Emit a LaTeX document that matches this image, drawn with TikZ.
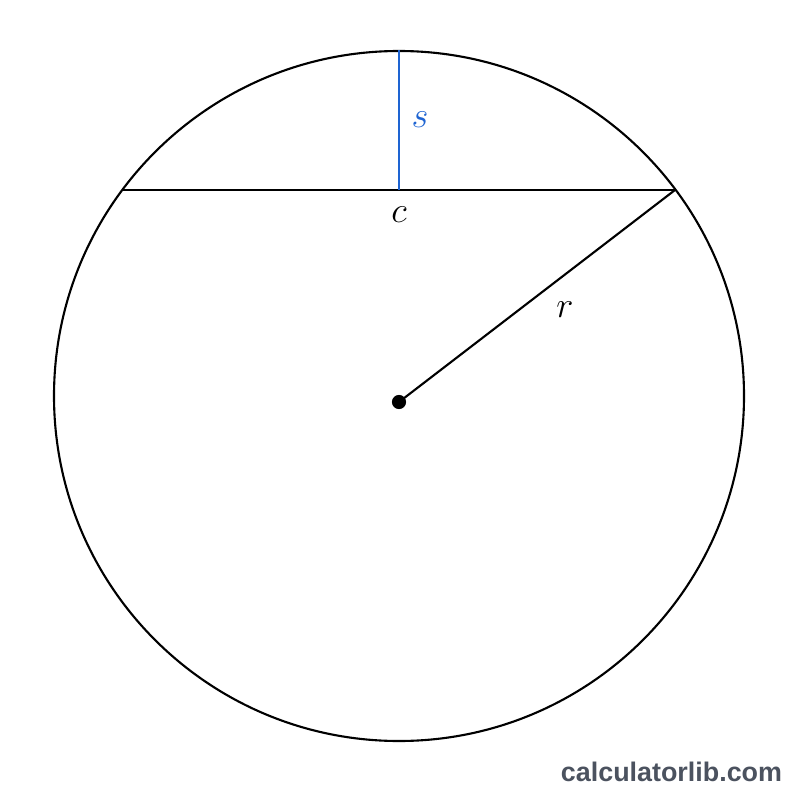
\documentclass[tikz,border=0pt]{standalone}
\usepackage{amsmath,amssymb}
\usepackage{fontspec}
\usepackage{tikz}
\usepackage{xcolor}
\newfontfamily\markfont{Liberation Sans}
\definecolor{segblue}{RGB}{30,100,210}
\definecolor{markgray}{RGB}{75,82,95}
\tikzset{lbl/.style={font=\fontsize{22}{26}\selectfont}}

\begin{document}
\begin{tikzpicture}[x=0.02cm,y=-0.02cm,line width=1.2pt]
\useasboundingbox (0,0) rectangle (800,800);
\coordinate (O) at (399,402);
\coordinate (A) at (122,190);
\coordinate (B) at (675,190);
\coordinate (M) at (399,190);
\coordinate (T) at (399,50);
\draw (399,396) circle [radius=345];
\draw (A) -- (B);
\draw [segblue] (M) -- (T);
\draw (O) -- (B);
\draw [fill] (O) circle [radius=6];
\node [lbl, segblue] (s) at (420,120) {$s$};
\node [lbl] (c) at (399,215) {$c$};
\node [lbl] (r) at (565,310) {$r$};
\node [markgray, font=\markfont\bfseries\fontsize{15.3}{17}\selectfont] (wm) at (671.5,772) {calculatorlib.com};
\end{tikzpicture}
\end{document}
